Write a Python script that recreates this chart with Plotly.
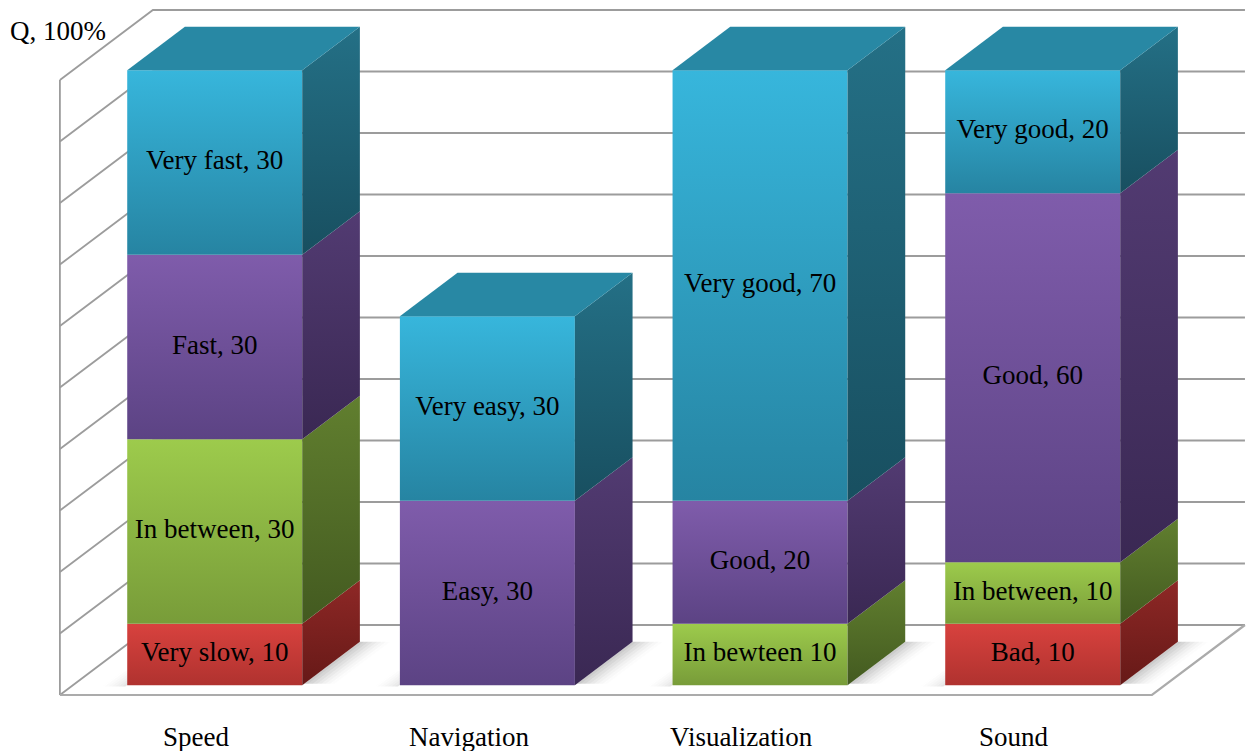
import plotly.graph_objects as go

# ---- data -------------------------------------------------------------
categories = ["Speed", "Navigation", "Visualization", "Sound"]

# stacked series, bottom to top (0 = segment not present)
red_values = [10, 0, 0, 10]
green_values = [30, 0, 10, 10]
purple_values = [30, 30, 20, 60]
cyan_values = [30, 30, 70, 20]

# label text placed before each value
red_prefix = ["Very slow, ", None, None, "Bad, "]
green_prefix = ["In between, ", None, "In bewteen ", "In between, "]
purple_prefix = ["Fast, ", "Easy, ", "Good, ", "Good, "]
cyan_prefix = ["Very fast, ", "Very easy, ", "Very good, ", "Very good, "]

grid_values = list(range(0, 101, 10))
axis_title = "Q, 100%"

# ---- styling ----------------------------------------------------------
W, H = 1253, 751
PX_PER_CAT = 272.67          # horizontal pixels per category step
PX_PER_VAL = 6.15            # vertical pixels per percent
ORIGIN_X_PX = 201.7          # pixel column of category 0 on the floor's front edge
ORIGIN_Y_PX = 695.0          # pixel row of value 0 on the floor's front edge

DEPTH_X = 93.0 / PX_PER_CAT  # full floor depth, projected on x (category units)
DEPTH_Y = 70.0 / PX_PER_VAL  # full floor depth, projected on y (value units)
BAR_FRONT, BAR_BACK = 0.14, 0.76   # bar depth span as a fraction of floor depth
HALF_W = 87.5 / PX_PER_CAT
FLOOR_LEFT, FLOOR_RIGHT = -0.52, 3.485

FONT = "Liberation Serif"
FONT_SIZE = 27
GRID = "#9C9C9C"

series = [
    dict(values=red_values, prefix=red_prefix,
         front=("#B0322F", "#D8423E"), side=("#661917", "#8E2826")),
    dict(values=green_values, prefix=green_prefix,
         front=("#789C39", "#9DCB4C"), side=("#435A20", "#617F2F")),
    dict(values=purple_values, prefix=purple_prefix,
         front=("#5C4384", "#7F5CAB"), side=("#3A2853", "#523B72")),
    dict(values=cyan_values, prefix=cyan_prefix,
         front=("#2684A2", "#37B6DC"), side=("#184F60", "#247086"),
         top="#2888A4"),
]


def proj(x, v, d):
    """Oblique projection of (category x, value v, depth d) onto the plot plane."""
    return x + DEPTH_X * d, v + DEPTH_Y * d


def poly(points):
    xs, ys = zip(*[proj(*p) for p in points])
    return list(xs) + [xs[0]], list(ys) + [ys[0]]


fig = go.Figure()


def add_line(points, color=GRID, width=1.8):
    xs, ys = zip(*[proj(*p) for p in points])
    fig.add_trace(go.Scatter(x=xs, y=ys, mode="lines",
                             line=dict(color=color, width=width),
                             hoverinfo="skip", showlegend=False))


def add_face(points, colors=None, solid=None):
    xs, ys = poly(points)
    kw = dict(x=xs, y=ys, mode="lines", fill="toself",
              line=dict(width=0), hoverinfo="skip", showlegend=False)
    if solid is not None:
        kw["fillcolor"] = solid
    else:
        kw["fillgradient"] = dict(type="vertical",
                                  colorscale=[[0, colors[0]], [1, colors[1]]])
    fig.add_trace(go.Scatter(**kw))


def add_shadow(points, alpha):
    xs, ys = poly(points)
    fig.add_trace(go.Scatter(x=xs, y=ys, mode="lines", fill="toself",
                             fillcolor=f"rgba(0,0,0,{alpha:.3f})",
                             line=dict(width=0), hoverinfo="skip",
                             showlegend=False))


# ---- walls and floor --------------------------------------------------
add_line([(FLOOR_LEFT, 0, 0), (FLOOR_LEFT, 100, 0)])
for g in grid_values:
    add_line([(FLOOR_LEFT, g, 0), (FLOOR_LEFT, g, 1), (FLOOR_RIGHT, g, 1)])
add_line([(FLOOR_LEFT, 0, 0), (FLOOR_RIGHT, 0, 0), (FLOOR_RIGHT, 0, 1)],
         color="#ABABAB", width=2.2)

# ---- soft floor shadows around each column ------------------------------
n_strips = 7
for i in range(len(categories)):
    xr = i + HALF_W
    xl = i - HALF_W
    for k in range(n_strips):
        fade = (1 - k / n_strips) ** 1.5
        w0, w1 = 0.016 * k, 0.016 * (k + 1)
        # to the right of the side face
        add_shadow([(xr + w0, 0, BAR_FRONT + 0.02), (xr + w1, 0, BAR_FRONT + 0.02),
                    (xr + w1, 0, BAR_BACK), (xr + w0, 0, BAR_BACK)], 0.20 * fade)
        # a lighter smear to the left of the front face
        add_shadow([(xl - w1 * 0.8, 0, BAR_FRONT - 0.02), (xl - w0 * 0.8, 0, BAR_FRONT - 0.02),
                    (xl - w0 * 0.8, 0, BAR_FRONT + 0.2), (xl - w1 * 0.8, 0, BAR_FRONT + 0.2)],
                   0.10 * fade)

# ---- 3D stacked columns -----------------------------------------------
label_x, label_y, label_t = [], [], []
for i in range(len(categories)):
    base = 0.0
    segs = []
    for s in series:
        v = s["values"][i]
        if v > 0:
            segs.append((s, base, base + v))
            base += v
    xl, xr = i - HALF_W, i + HALF_W
    for s, v0, v1 in segs:
        add_face([(xl, v0, BAR_FRONT), (xr, v0, BAR_FRONT),
                  (xr, v1, BAR_FRONT), (xl, v1, BAR_FRONT)], colors=s["front"])
        add_face([(xr, v0, BAR_FRONT), (xr, v0, BAR_BACK),
                  (xr, v1, BAR_BACK), (xr, v1, BAR_FRONT)], colors=s["side"])
        lx, ly = proj(i, (v0 + v1) / 2, BAR_FRONT)
        label_x.append(lx)
        label_y.append(ly)
        label_t.append(f"{s['prefix'][i]}{s['values'][i]}")
    s_top, _, top = segs[-1]
    add_face([(xl, top, BAR_FRONT), (xr, top, BAR_FRONT),
              (xr, top, BAR_BACK), (xl, top, BAR_BACK)],
             solid=s_top.get("top", s_top["side"][1]))

fig.add_trace(go.Scatter(x=label_x, y=label_y, text=label_t, mode="text",
                         textfont=dict(family=FONT, size=FONT_SIZE, color="#000000"),
                         hoverinfo="skip", showlegend=False))

# ---- category labels and axis title ------------------------------------
cat_y = (ORIGIN_Y_PX - 737) / PX_PER_VAL
for i, c in enumerate(categories):
    fig.add_annotation(x=i - 0.02, y=cat_y, xref="x", yref="y", text=c,
                       showarrow=False,
                       font=dict(family=FONT, size=FONT_SIZE, color="#000000"))
fig.add_annotation(x=8 / W, y=1 - 31 / H, xref="paper", yref="paper",
                   xanchor="left", yanchor="middle", text=axis_title,
                   showarrow=False,
                   font=dict(family=FONT, size=FONT_SIZE, color="#000000"))

fig.update_layout(
    width=W, height=H, autosize=False,
    margin=dict(l=0, r=0, t=0, b=0, pad=0),
    paper_bgcolor="white", plot_bgcolor="white",
    xaxis=dict(range=[-ORIGIN_X_PX / PX_PER_CAT, (W - ORIGIN_X_PX) / PX_PER_CAT],
               visible=False, fixedrange=True),
    yaxis=dict(range=[(ORIGIN_Y_PX - H) / PX_PER_VAL, ORIGIN_Y_PX / PX_PER_VAL],
               visible=False, fixedrange=True),
    showlegend=False,
)

fig.write_html("out.html")
